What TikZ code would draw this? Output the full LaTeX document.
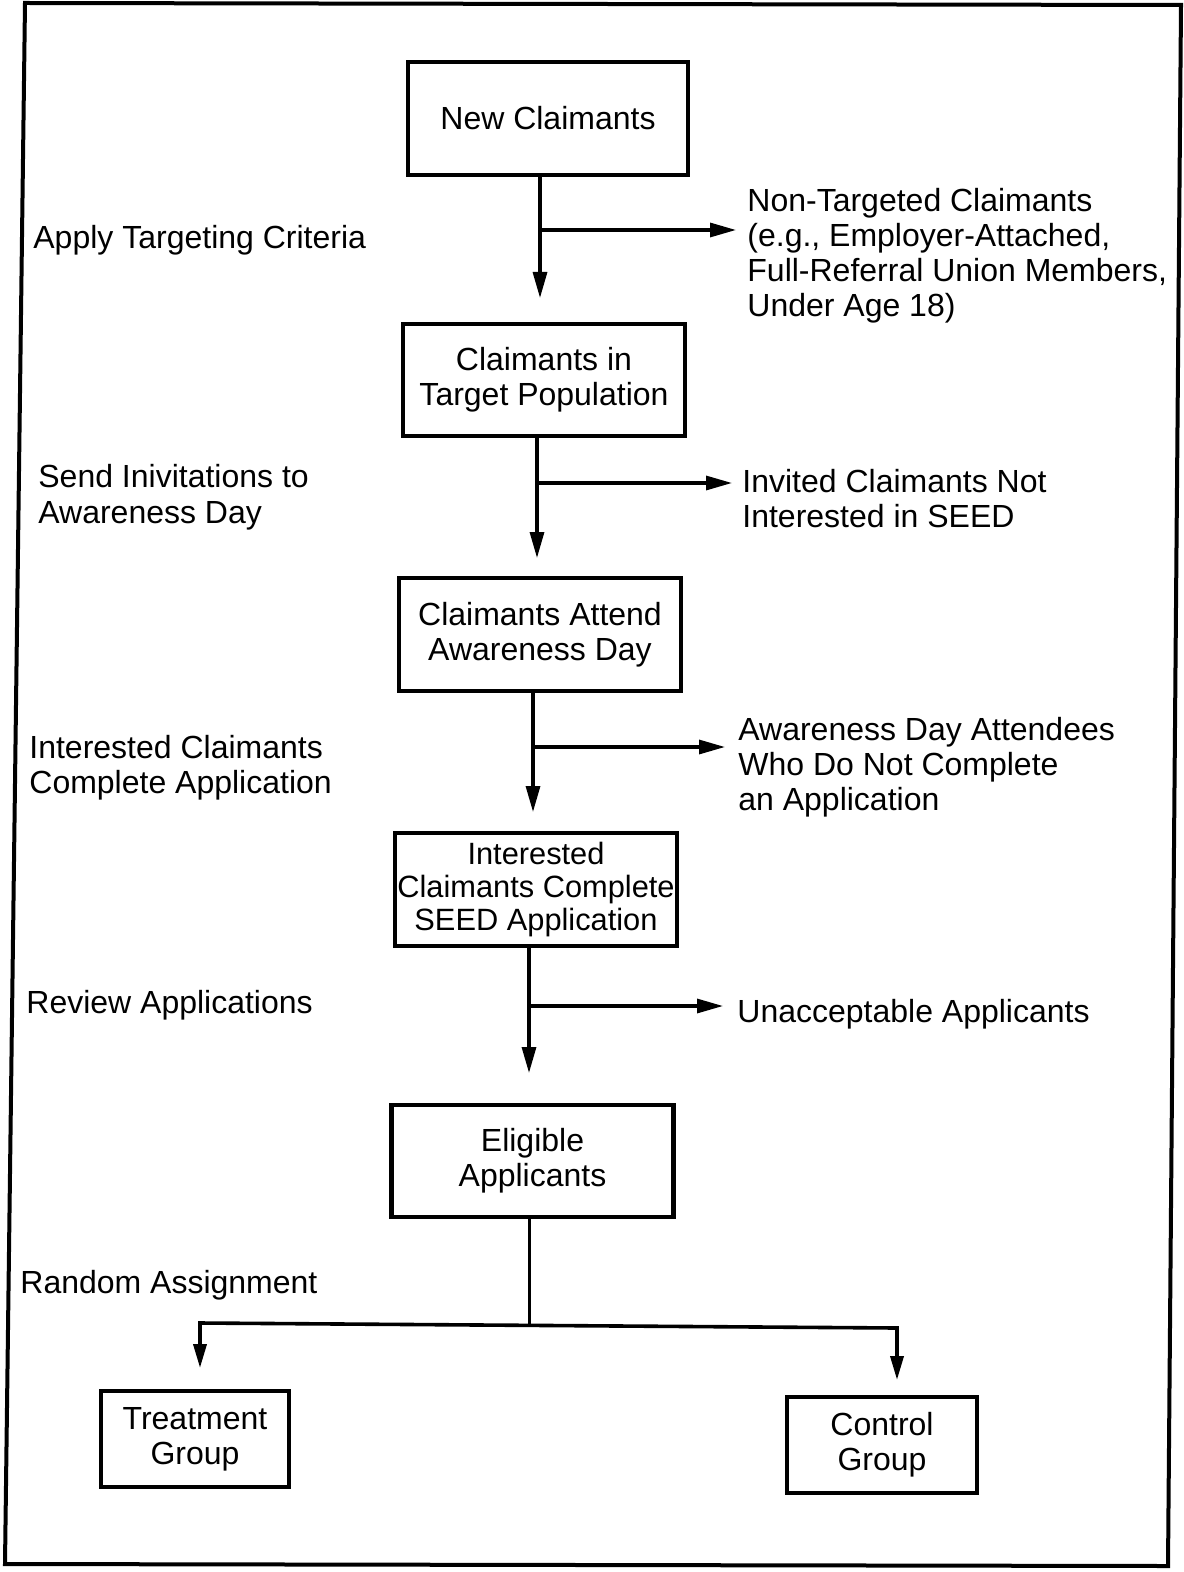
\documentclass[tikz,border=0pt]{standalone}
\usepackage{fontspec}
\setmainfont{Liberation Sans}
\usetikzlibrary{arrows.meta}
\newcommand\mylbl{\fontsize{16}{17.5}\selectfont}
\begin{document}
\begin{tikzpicture}[x=0.5pt,y=-0.5pt,
  box/.style={draw,line width=2.2pt,align=center,inner sep=0pt,font=\mylbl},
  lab/.style={align=left,inner sep=0pt,anchor=base west,font=\mylbl},
  arr/.style={line width=1.6pt,-{Triangle[length=13pt,width=7pt]}},
  plain/.style={line width=1.5pt},
  bar/.style={line width=1.8pt,{Triangle[length=12pt,width=6.5pt]}-{Triangle[length=12pt,width=6.5pt]}},
  frame/.style={line width=2pt}]
\useasboundingbox (0,0) rectangle (1183,1572);
\draw[frame] (25,3) -- (1181,5) -- (1168,1566) -- (5,1564) -- cycle;

% boxes
\node[box,minimum width=140pt,minimum height=56.5pt] (b1) at (548,118.5) {New Claimants};
\node[box,minimum width=141pt,minimum height=56pt] (b2) at (544,380) {Claimants in\\Target Population};
\node[box,minimum width=141pt,minimum height=56.5pt] (b3) at (540,634.5) {Claimants Attend\\Awareness Day};
\node[box,minimum width=141pt,minimum height=56.5pt,font=\fontsize{15.4}{16.5}\selectfont] (b4) at (536,889.5) {Interested\\Claimants Complete\\SEED Application};
\node[box,minimum width=141pt,minimum height=56pt] (b5) at (532.5,1161) {Eligible\\Applicants};
\node[box,minimum width=94pt,minimum height=48pt] (b6) at (195,1439) {Treatment\\Group};
\node[box,minimum width=95pt,minimum height=48pt] (b7) at (882,1445) {Control\\Group};

% left labels
\node[lab] (l1) at (33,249) {Apply Targeting Criteria};
\node[lab] (l2) at (38,523) {Send Inivitations to\\Awareness Day};
\node[lab] (l3) at (29,793) {Interested Claimants\\Complete Application};
\node[lab] (l4) at (26,1013) {Review Applications};
\node[lab] (l5) at (20,1293) {Random Assignment};

% right labels
\node[lab] (r1) at (747,317) {Non-Targeted Claimants\\(e.g., Employer-Attached,\\Full-Referral Union Members,\\Under Age 18)};
\node[lab] (r2) at (742,527) {Invited Claimants Not\\Interested in SEED};
\node[lab] (r3) at (738,810) {Awareness Day Attendees\\Who Do Not Complete\\an Application};
\node[lab] (r4) at (737,1022) {Unacceptable Applicants};

% coordinates
\coordinate (a1) at (540,298);
\coordinate (j1) at (540,230);
\coordinate (t1) at (736,230);
\coordinate (a2) at (537,558);
\coordinate (j2) at (537,483);
\coordinate (t2) at (732,483);
\coordinate (a3) at (533,812);
\coordinate (j3) at (533,747);
\coordinate (t3) at (725,747);
\coordinate (a4) at (529,1073);
\coordinate (j4) at (529,1006);
\coordinate (t4) at (723,1006);
\coordinate (j5) at (529,1325);
\coordinate (tl) at (200,1368);
\coordinate (bl) at (200,1323);
\coordinate (br) at (897,1328);
\coordinate (tr) at (897,1380);

% connectors
\draw[arr] (b1.south -| a1) -- (a1);
\draw[arr] (j1) -- (t1);
\draw[arr] (b2.south -| a2) -- (a2);
\draw[arr] (j2) -- (t2);
\draw[arr] (b3.south -| a3) -- (a3);
\draw[arr] (j3) -- (t3);
\draw[arr] (b4.south -| a4) -- (a4);
\draw[arr] (j4) -- (t4);
\draw[plain] (b5.south -| j5) -- (j5);
\draw[bar] (tl) -- (bl) -- (br) -- (tr);
\end{tikzpicture}
\end{document}
